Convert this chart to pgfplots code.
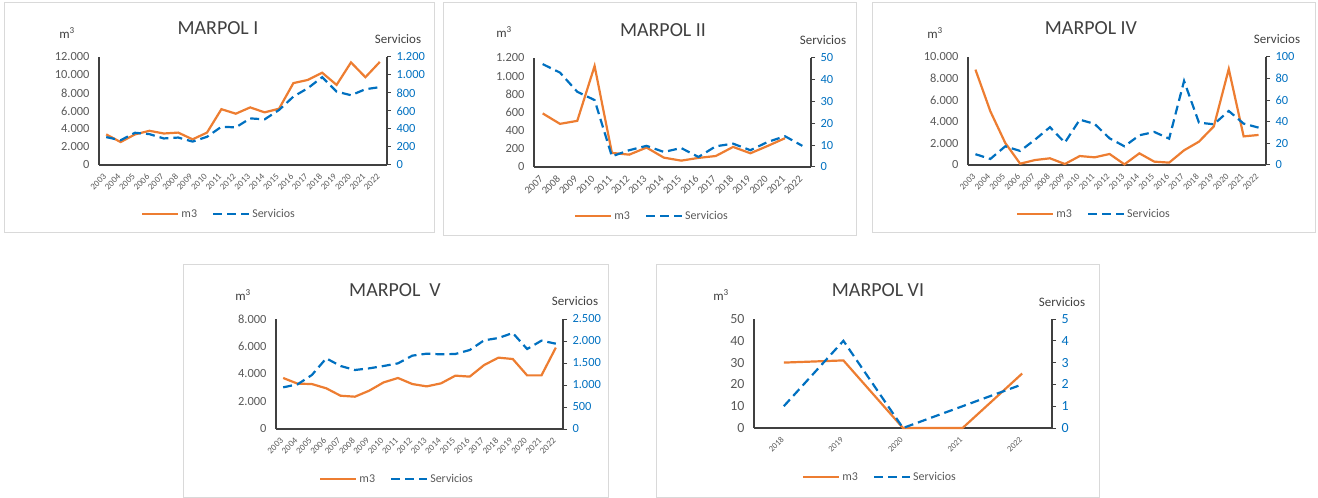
\documentclass[border=0pt]{standalone}
\usepackage{fontspec}
\setmainfont{Carlito}
\usepackage{pgfplots}
\pgfplotsset{compat=1.18}

\definecolor{xlorange}{HTML}{ED7D31}
\definecolor{xlblue}{HTML}{0070C0}
\definecolor{txtgray}{HTML}{595959}
\definecolor{axgray}{HTML}{404040}
\definecolor{boxgray}{HTML}{D9D9D9}

\pgfplotsset{
  legend image code/.code={\draw[#1] (0bp,0bp) -- (36bp,0bp);},
  m3line/.style={color=xlorange, line width=2.2bp, solid, no markers},
  servline/.style={color=xlblue, line width=2.2bp, dash pattern=on 9bp off 5bp, no markers},
  base/.style={scale only axis, anchor=south west, clip=false, scaled y ticks=false,
    /pgf/number format/1000 sep={.}, /pgf/number format/assume math mode=true,
    axis line style={axgray, line width=1.4bp}},
  leftax/.style={base, axis y line*=left, axis x line*=bottom,
    ytick style={draw=none}, xtick style={draw=none},
    yticklabel style={txtgray, font=\fontsize{12.5}{14}\selectfont, xshift=-6bp},
    xticklabel style={txtgray, yshift=-8bp, xshift=1bp, rotate=45, anchor=east,
      /pgf/number format/1000 sep={}}},
  rightax/.style={base, axis y line*=right, axis x line=none,
    ytick style={axgray, line width=1bp}, tick align=outside, major tick length=4bp,
    yticklabel style={xlblue, font=\fontsize{12.5}{14}\selectfont, xshift=2bp},
    legend style={draw=none, fill=none, anchor=center, legend columns=2,
      font=\fontsize{12}{14}\selectfont, text=txtgray,
      /tikz/every even column/.append style={column sep=13bp}}},
}
\newcommand{\ttl}[1]{\fontsize{20}{22}\selectfont\color{axgray}#1}
\newcommand{\lab}[1]{\fontsize{13}{15}\selectfont\color{axgray}#1}

\begin{document}
\begin{tikzpicture}
\useasboundingbox (0,0) rectangle (1318bp,498bp);
\begin{scope}[x=1bp,y=1bp]
  \draw[boxgray, line width=1bp] (4,495) rectangle (434,265);
  \draw[boxgray, line width=1bp] (443,495) rectangle (856,262);
  \draw[boxgray, line width=1bp] (872,495) rectangle (1315,265);
  \draw[boxgray, line width=1bp] (183,233) rectangle (608,1);
  \draw[boxgray, line width=1bp] (656,233) rectangle (1099,1);
  \node at (218,470) {\ttl{MARPOL I}};
  \node at (663,468) {\ttl{MARPOL II}};
  \node at (1091,470) {\ttl{MARPOL IV}};
  \node at (395,208) {\ttl{MARPOL\ \ V}};
  \node at (878,208) {\ttl{MARPOL VI}};
  \node at (67,465) {\lab{m\textsuperscript{3}}};
  \node at (504,466) {\lab{m\textsuperscript{3}}};
  \node at (935,465) {\lab{m\textsuperscript{3}}};
  \node at (243,203) {\lab{m\textsuperscript{3}}};
  \node at (721,203) {\lab{m\textsuperscript{3}}};
  \node at (398,459) {\lab{Servicios}};
  \node at (823,458) {\lab{Servicios}};
  \node at (1277,459) {\lab{Servicios}};
  \node at (575,197) {\lab{Servicios}};
  \node at (1062,196) {\lab{Servicios}};
\end{scope}

% ---------------- MARPOL I
\begin{axis}[leftax, at={(99bp,333bp)}, width=288bp, height=108bp,
  xmin=2002.5, xmax=2022.5, xtick={2003,...,2022},
  xticklabel style={font=\fontsize{9}{10}\selectfont},
  ymin=0, ymax=12000, ytick={0,2000,...,12000}]
\addplot[m3line] coordinates {
 (2003,3400) (2004,2550) (2005,3400) (2006,3800) (2007,3500) (2008,3600)
 (2009,2850) (2010,3600) (2011,6200) (2012,5700) (2013,6400) (2014,5850)
 (2015,6250) (2016,9100) (2017,9450) (2018,10250) (2019,8900) (2020,11400)
 (2021,9750) (2022,11450)};
\end{axis}
\begin{axis}[rightax, at={(99bp,333bp)}, width=288bp, height=108bp,
  xmin=2002.5, xmax=2022.5,
  ymin=0, ymax=1200, ytick={0,200,...,1200},
  legend style={at={(0.417,-0.454)}}]
\addlegendimage{m3line}
\addlegendentry{m3}
\addplot[servline] coordinates {
 (2003,310) (2004,275) (2005,358) (2006,343) (2007,295) (2008,305)
 (2009,260) (2010,313) (2011,425) (2012,418) (2013,518) (2014,507)
 (2015,611) (2016,760) (2017,853) (2018,976) (2019,816) (2020,775)
 (2021,842) (2022,865)};
\addlegendentry{Servicios}
\end{axis}

% ---------------- MARPOL II
\begin{axis}[leftax, at={(534bp,331bp)}, width=277bp, height=109bp,
  xmin=2006.5, xmax=2022.5, xtick={2007,...,2022},
  xticklabel style={font=\fontsize{10.5}{12}\selectfont},
  ymin=0, ymax=1200, ytick={0,200,...,1200}]
\addplot[m3line] coordinates {
 (2007,590) (2008,475) (2009,508) (2010,1112) (2011,155) (2012,136)
 (2013,214) (2014,103) (2015,70) (2016,100) (2017,121) (2018,221)
 (2019,151) (2020,232) (2021,317)};
\end{axis}
\begin{axis}[rightax, at={(534bp,331bp)}, width=277bp, height=109bp,
  xmin=2006.5, xmax=2022.5,
  ymin=0, ymax=50, ytick={0,10,...,50},
  legend style={at={(0.426,-0.45)}}]
\addlegendimage{m3line}
\addlegendentry{m3}
\addplot[servline] coordinates {
 (2007,47.2) (2008,43.3) (2009,34.5) (2010,30.7) (2011,4.9) (2012,7.7)
 (2013,9.7) (2014,6.9) (2015,8.7) (2016,4.6) (2017,9.5) (2018,10.7)
 (2019,7.7) (2020,11.5) (2021,14.1) (2022,9.7)};
\addlegendentry{Servicios}
\end{axis}

% ---------------- MARPOL IV
\begin{axis}[leftax, at={(968bp,333bp)}, width=298bp, height=108bp,
  xmin=2002.5, xmax=2022.5, xtick={2003,...,2022},
  xticklabel style={font=\fontsize{9}{10}\selectfont},
  ymin=0, ymax=10000, ytick={0,2000,...,10000}]
\addplot[m3line] coordinates {
 (2003,8830) (2004,4970) (2005,2040) (2006,120) (2007,460) (2008,620)
 (2009,90) (2010,830) (2011,710) (2012,1020) (2013,60) (2014,1080)
 (2015,310) (2016,220) (2017,1360) (2018,2160) (2019,3580) (2020,8890)
 (2021,2650) (2022,2780)};
\end{axis}
\begin{axis}[rightax, at={(968bp,333bp)}, width=298bp, height=108bp,
  xmin=2002.5, xmax=2022.5,
  ymin=0, ymax=100, ytick={0,20,...,100},
  legend style={at={(0.423,-0.454)}}]
\addlegendimage{m3line}
\addlegendentry{m3}
\addplot[servline] coordinates {
 (2003,10) (2004,5.6) (2005,17.3) (2006,13) (2007,23.5) (2008,35)
 (2009,20.7) (2010,42) (2011,38) (2012,24.7) (2013,17.3) (2014,27.5)
 (2015,30.6) (2016,24.4) (2017,77.8) (2018,39.2) (2019,37.7) (2020,50)
 (2021,38.3) (2022,34.6)};
\addlegendentry{Servicios}
\end{axis}

% ---------------- MARPOL V
\begin{axis}[leftax, at={(276bp,69bp)}, width=287bp, height=110bp,
  xmin=2002.5, xmax=2022.5, xtick={2003,...,2022},
  xticklabel style={font=\fontsize{9}{10}\selectfont},
  ymin=0, ymax=8000, ytick={0,2000,...,8000}]
\addplot[m3line] coordinates {
 (2003,3710) (2004,3300) (2005,3270) (2006,2960) (2007,2420) (2008,2350)
 (2009,2790) (2010,3390) (2011,3710) (2012,3270) (2013,3100) (2014,3320)
 (2015,3880) (2016,3810) (2017,4650) (2018,5190) (2019,5090) (2020,3900)
 (2021,3900) (2022,5920)};
\end{axis}
\begin{axis}[rightax, at={(276bp,69bp)}, width=287bp, height=110bp,
  xmin=2002.5, xmax=2022.5,
  ymin=0, ymax=2500, ytick={0,500,...,2500},
  legend style={at={(0.422,-0.455)}}]
\addlegendimage{m3line}
\addlegendentry{m3}
\addplot[servline] coordinates {
 (2003,947) (2004,1015) (2005,1227) (2006,1606) (2007,1432) (2008,1341)
 (2009,1379) (2010,1432) (2011,1492) (2012,1667) (2013,1712) (2014,1697)
 (2015,1705) (2016,1795) (2017,2015) (2018,2068) (2019,2182) (2020,1818)
 (2021,2008) (2022,1939)};
\addlegendentry{Servicios}
\end{axis}

% ---------------- MARPOL VI
\begin{axis}[leftax, at={(754bp,70bp)}, width=298bp, height=109bp,
  xmin=2017.5, xmax=2022.5, xtick={2018,...,2022},
  xticklabel style={font=\fontsize{8.5}{10}\selectfont},
  yticklabel style={font=\fontsize{14}{16}\selectfont},
  ymin=0, ymax=50, ytick={0,10,...,50}]
\addplot[m3line] coordinates {
 (2018,30) (2019,31) (2020,0) (2021,0) (2022,25)};
\end{axis}
\begin{axis}[rightax, at={(754bp,70bp)}, width=298bp, height=109bp,
  xmin=2017.5, xmax=2022.5,
  yticklabel style={font=\fontsize{14}{16}\selectfont},
  ymin=0, ymax=5, ytick={0,1,...,5},
  legend style={at={(0.423,-0.45)}}]
\addlegendimage{m3line}
\addlegendentry{m3}
\addplot[servline] coordinates {
 (2018,1) (2019,4) (2020,0) (2021,1) (2022,2)};
\addlegendentry{Servicios}
\end{axis}
\end{tikzpicture}
\end{document}
